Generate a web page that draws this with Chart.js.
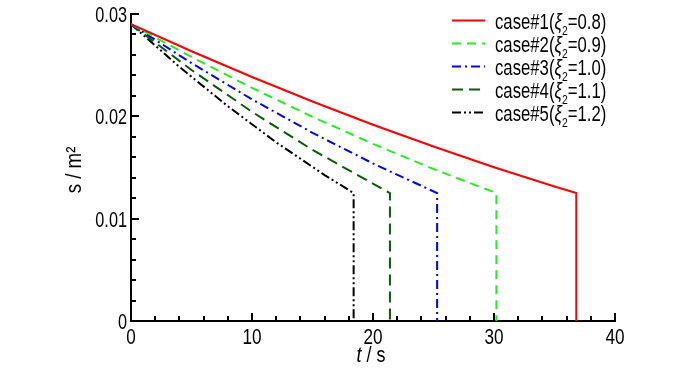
<!DOCTYPE html>
<html>
<head>
<meta charset="utf-8">
<script src="https://cdn.jsdelivr.net/npm/chart.js@4.4.1/dist/chart.umd.min.js"></script>
<style>
html, body { margin: 0; padding: 0; background: #fff; }
#wrap { width: 700px; height: 373px; }
</style>
</head>
<body>
<div id="wrap"><canvas id="chart"></canvas></div>
<script>
var FONT = '"Liberation Sans", Arial, sans-serif'

// case labels and xi_2 values
var caseNames = ['case#1', 'case#2', 'case#3', 'case#4', 'case#5']
var xiValues = ['0.8', '0.9', '1.0', '1.1', '1.2']

// t (s) and s (m^2)
var t1 = [0, 5, 10, 15, 20, 25, 30, 35, 36.8, 36.8]
var s1 = [0.0290, 0.02636, 0.02384, 0.02145, 0.01918, 0.01705, 0.01503, 0.01315, 0.0125, 0]
var t2 = [0, 5, 10, 15, 20, 25, 30.2, 30.2]
var s2 = [0.0290, 0.02580, 0.02278, 0.01995, 0.01731, 0.01485, 0.0125, 0]
var t3 = [0, 5, 10, 15, 20, 25.3, 25.3]
var s3 = [0.0290, 0.02520, 0.02166, 0.01839, 0.01539, 0.0125, 0]
var t4 = [0, 5, 10, 15, 21.4, 21.4]
var s4 = [0.0290, 0.02453, 0.02044, 0.01672, 0.0125, 0]
var t5 = [0, 4, 8, 12, 16, 18.4, 18.4]
var s5 = [0.0290, 0.02483, 0.02099, 0.01746, 0.01426, 0.0125, 0]

var xTicks = [0, 10, 20, 30, 40]
var yTicks = [0, 0.01, 0.02, 0.03]
var yTickLabels = ['0', '0.01', '0.02', '0.03']

function pts(t, s) {
  return t.map(function(v, i) { return { x: v, y: s[i] } })
}

var styles = [
  { color: '#ff0000', dash: [] },
  { color: '#22ee22', dash: [9, 6] },
  { color: '#0000ff', dash: [9, 4, 2, 4] },
  { color: '#0a5a0a', dash: [11, 6] },
  { color: '#000000', dash: [9, 3, 2, 3, 2, 3] }
]
var series = [[t1, s1], [t2, s2], [t3, s3], [t4, s4], [t5, s5]]

var datasets = series.map(function(d, i) {
  return {
    label: caseNames[i],
    data: pts(d[0], d[1]),
    borderColor: styles[i].color,
    borderDash: styles[i].dash,
    borderWidth: 2,
    pointRadius: 0,
    fill: false,
    tension: 0
  }
})

// narrow-looking text: squeeze horizontally
function narrowText(ctx, str, x, y, font, sx, align) {
  ctx.save()
  ctx.font = font
  var w = ctx.measureText(str).width * sx
  var x0 = align === 'center' ? x - w / 2 : align === 'right' ? x - w : x
  ctx.translate(x0, y)
  ctx.scale(sx, 1)
  ctx.textAlign = 'left'
  ctx.fillText(str, 0, 0)
  ctx.restore()
  return w
}

function richText(ctx, parts, x, y, size, sx) {
  parts.forEach(function(p) {
    var sz = p.sub ? size * 0.62 : size
    var f = (p.italic ? 'italic ' : '') + sz + 'px ' + FONT
    x += narrowText(ctx, p.t, x, y + (p.sub ? size * 0.3 : 0), f, sx, 'left')
  })
  return x
}

var decor = {
  id: 'decor',
  afterDraw: function(chart) {
    var ctx = chart.ctx, xs = chart.scales.x, ys = chart.scales.y, a = chart.chartArea
    ctx.save()
    ctx.strokeStyle = '#000'
    ctx.lineWidth = 2
    ctx.setLineDash([])
    // inward ticks, minor every 2 s and 0.002
    for (var v = 0; v <= 40; v += 2) {
      var px = Math.round(xs.getPixelForValue(v))
      var len = v % 10 === 0 ? 8 : 5
      ctx.beginPath(); ctx.moveTo(px, a.bottom); ctx.lineTo(px, a.bottom - len); ctx.stroke()
    }
    for (var i = 0; i <= 15; i++) {
      var py = Math.round(ys.getPixelForValue(i * 0.002))
      var l2 = i % 5 === 0 ? 8 : 5
      ctx.beginPath(); ctx.moveTo(a.left, py); ctx.lineTo(a.left + l2, py); ctx.stroke()
    }

    ctx.fillStyle = '#000'
    ctx.textBaseline = 'alphabetic'
    var tf = '22px ' + FONT
    xTicks.forEach(function(v) {
      narrowText(ctx, String(v), xs.getPixelForValue(v), 344, tf, 0.78, 'center')
    })
    yTicks.forEach(function(v, j) {
      narrowText(ctx, yTickLabels[j], 127, ys.getPixelForValue(v) + 8, tf, 0.74, 'right')
    })

    // x title
    var af = '22px ' + FONT
    ctx.font = 'italic ' + af
    var w = ctx.measureText('t').width
    ctx.font = af
    w = (w + ctx.measureText(' / s').width) * 0.82
    richText(ctx, [{ t: 't', italic: true }, { t: ' / s' }], 371 - w / 2, 362, 22, 0.82)
    // y title
    ctx.save()
    ctx.translate(81, 170)
    ctx.rotate(-Math.PI / 2)
    narrowText(ctx, 's / m\u00b2', 0, 0, af, 0.85, 'center')
    ctx.restore()

    // legend
    for (var k = 0; k < 5; k++) {
      var ly = 20.5 + k * 23
      ctx.strokeStyle = styles[k].color
      ctx.setLineDash(styles[k].dash)
      ctx.beginPath(); ctx.moveTo(452, ly); ctx.lineTo(485, ly); ctx.stroke()
      ctx.fillStyle = '#000'
      richText(ctx, [
        { t: caseNames[k] + '(' },
        { t: '\u03be', italic: true },
        { t: '2', sub: true },
        { t: '=' + xiValues[k] + ')' }
      ], 495, ly + 8, 22, 0.76)
    }
    ctx.restore()
  }
}

var ctx = document.getElementById('chart').getContext('2d')
var chart = new Chart(ctx, {
  type: 'line',
  data: { datasets: datasets },
  options: {
    responsive: true,
    maintainAspectRatio: false,
    animation: false,
    layout: { padding: { left: 0, right: 85, top: 14, bottom: 0 } },
    plugins: { legend: { display: false }, tooltip: { enabled: false } },
    scales: {
      x: {
        type: 'linear', min: 0, max: 40,
        grid: { display: false },
        border: { display: true, color: '#000', width: 2 },
        afterBuildTicks: function(s) { s.ticks = xTicks.map(function(v) { return { value: v } }) },
        afterFit: function(s) { s.height = 52 },
        ticks: { display: false }
      },
      y: {
        type: 'linear', min: 0, max: 0.03,
        grid: { display: false },
        border: { display: true, color: '#000', width: 2 },
        afterBuildTicks: function(s) { s.ticks = yTicks.map(function(v) { return { value: v } }) },
        afterFit: function(s) { s.width = 131 },
        ticks: { display: false }
      }
    }
  },
  plugins: [decor]
})
</script>
</body>
</html>
